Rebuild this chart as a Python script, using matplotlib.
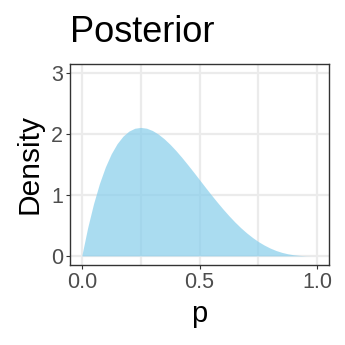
import numpy as np
import matplotlib.pyplot as plt

# posterior density (grid of p, step 0.025)
p = [0.0, 0.025, 0.05, 0.075, 0.1, 0.125, 0.15, 0.175, 0.2, 0.225,
     0.25, 0.275, 0.3, 0.325, 0.35, 0.375, 0.4, 0.425, 0.45, 0.475,
     0.5, 0.525, 0.55, 0.575, 0.6, 0.625, 0.65, 0.675, 0.7, 0.725,
     0.75, 0.775, 0.8, 0.825, 0.85, 0.875, 0.9, 0.925, 0.95, 0.975, 1.0]
density = [0.0, 0.463, 0.857, 1.187, 1.458, 1.675, 1.842, 1.965, 2.048, 2.095,
           2.109, 2.096, 2.058, 1.999, 1.922, 1.831, 1.728, 1.616, 1.497, 1.375,
           1.25, 1.125, 1.002, 0.883, 0.768, 0.659, 0.557, 0.463, 0.378, 0.302,
           0.234, 0.177, 0.128, 0.088, 0.057, 0.034, 0.018, 0.008, 0.002, 0.0003, 0.0]

x_ticks = [0.0, 0.5, 1.0]
x_ticklabels = ['0.0', '0.5', '1.0']
y_ticks = [0, 1, 2, 3]

plt.rcParams['font.family'] = ['Liberation Sans', 'DejaVu Sans']

fig = plt.figure(figsize=(3.45, 3.45), dpi=100)
ax = fig.add_axes([70/345, 80/345, 259/345, 201/345])

ax.fill_between(p, 0, density, color='#87CEEB', alpha=0.7, linewidth=0, zorder=2)

ax.set_xlim(-0.05, 1.05)
ax.set_ylim(-0.15, 3.15)
ax.set_xticks(x_ticks)
ax.set_xticklabels(x_ticklabels)
ax.set_xticks([0.25, 0.75], minor=True)
ax.set_yticks(y_ticks)

ax.grid(True, which='major', color='#EBEBEB', linewidth=1.6, zorder=0)
ax.grid(True, which='minor', axis='x', color='#EBEBEB', linewidth=1.6, zorder=0)
ax.set_axisbelow(True)

for s in ax.spines.values():
    s.set_color('#333333')
    s.set_linewidth(1.0)

ax.tick_params(which='major', length=3, width=0.8, color='#333333',
               labelsize=15.5, labelcolor='#4D4D4D', pad=2)
ax.tick_params(which='minor', length=0)

ax.set_xlabel('p', fontsize=21, labelpad=5)
ax.set_ylabel('Density', fontsize=21.5, labelpad=5)

fig.text(70/345, 303/345, 'Posterior', fontsize=26, ha='left', va='baseline')

fig.savefig('out.png', dpi=100)
